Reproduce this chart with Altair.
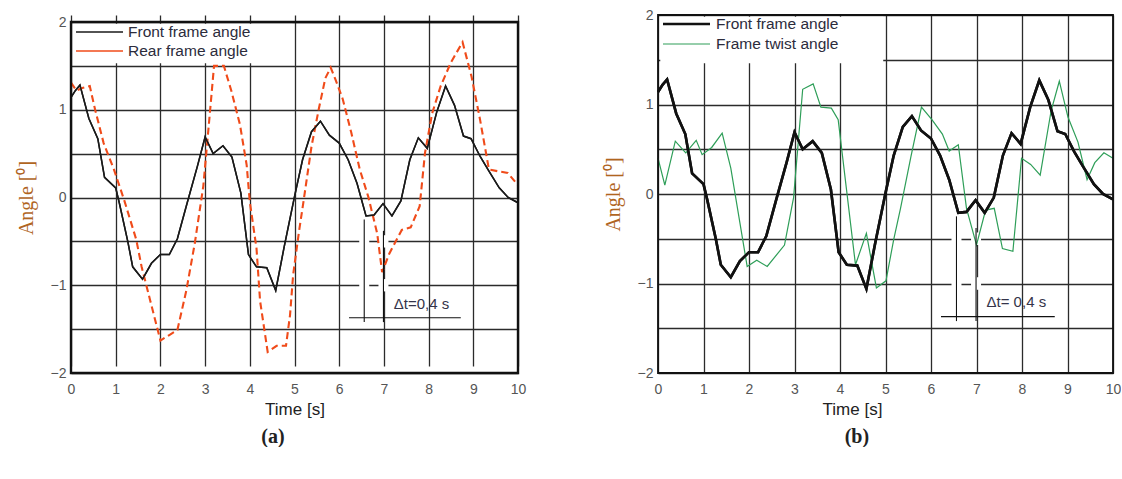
import altair as alt
import pandas as pd

# ---------------- data ----------------
front_t = [0, 0.1, 0.2, 0.4, 0.6, 0.75, 1.0, 1.08, 1.27, 1.38, 1.6, 1.8, 2.0, 2.2, 2.38, 2.6, 2.83, 3.0, 3.18, 3.4,
           3.6, 3.8, 3.97, 4.15, 4.38, 4.58, 4.77, 5.0, 5.18, 5.38, 5.58, 5.78, 6.0, 6.2, 6.4, 6.6, 6.78, 6.98, 7.18, 7.38,
           7.58, 7.77, 7.97, 8.18, 8.38, 8.58, 8.78, 8.95, 9.15, 9.35, 9.58, 9.78, 10.0]
front_v = [1.14, 1.22, 1.28, 0.90, 0.67, 0.23, 0.11, -0.06, -0.50, -0.79, -0.93, -0.75, -0.65, -0.65, -0.47, -0.06, 0.36, 0.69, 0.50, 0.59,
           0.46, 0.05, -0.65, -0.79, -0.80, -1.06, -0.56, 0.01, 0.43, 0.75, 0.87, 0.71, 0.62, 0.43, 0.16, -0.21, -0.20, -0.07, -0.21, -0.04,
           0.43, 0.68, 0.56, 0.97, 1.27, 1.05, 0.70, 0.67, 0.47, 0.30, 0.11, 0.0, -0.06]

rear_t = [0, 0.12, 0.27, 0.42, 0.54, 0.73, 0.96, 1.19, 1.46, 1.58, 1.77, 2.0, 2.19, 2.38, 2.58, 2.77, 2.96, 3.08, 3.2, 3.42,
          3.59, 3.78, 3.93, 4.0, 4.15, 4.23, 4.4, 4.6, 4.81, 4.9, 4.97, 5.1, 5.2, 5.38, 5.54, 5.69, 5.81, 5.92, 6.08, 6.27,
          6.46, 6.65, 6.85, 6.96, 7.12, 7.4, 7.6, 7.8, 7.92, 8.08, 8.27, 8.5, 8.76, 8.96, 9.15, 9.35, 9.54, 9.77, 10.0]
rear_v = [1.31, 1.22, 1.25, 1.27, 1.0, 0.62, 0.32, -0.03, -0.48, -0.79, -1.17, -1.63, -1.57, -1.51, -1.06, -0.52, 0.13, 0.81, 1.50, 1.50,
          1.21, 0.83, 0.37, -0.05, -0.58, -1.18, -1.76, -1.69, -1.69, -1.34, -0.88, -0.39, -0.05, 0.58, 1.0, 1.36, 1.48, 1.34, 1.12, 0.74,
          0.32, 0.01, -0.41, -0.85, -0.64, -0.37, -0.34, -0.10, 0.51, 0.96, 1.27, 1.54, 1.77, 1.38, 0.89, 0.32, 0.30, 0.28, 0.14]

twist_t = [0, 0.15, 0.38, 0.61, 0.84, 0.97, 1.18, 1.41, 1.6, 1.96, 2.17, 2.4, 2.78, 2.98, 3.18, 3.41, 3.58, 3.81, 3.96, 4.34,
           4.58, 4.8, 5.01, 5.18, 5.33, 5.56, 5.79, 6.02, 6.25, 6.4, 6.6, 6.78, 7.0, 7.2, 7.39, 7.57, 7.8, 7.99, 8.19, 8.4,
           8.64, 8.82, 9.01, 9.23, 9.43, 9.6, 9.8, 10.0]
twist_v = [0.40, 0.10, 0.59, 0.46, 0.60, 0.44, 0.52, 0.68, 0.29, -0.81, -0.74, -0.81, -0.57, -0.04, 1.17, 1.23, 0.97, 0.96, 0.83, -0.79,
           -0.44, -1.05, -0.97, -0.51, -0.16, 0.42, 0.97, 0.83, 0.67, 0.48, 0.55, -0.16, -0.57, -0.18, -0.16, -0.61, -0.64, 0.40, 0.33, 0.21,
           0.93, 1.26, 0.86, 0.58, 0.16, 0.35, 0.46, 0.40]

x_ticks = [0, 1, 2, 3, 4, 5, 6, 7, 8, 9, 10]
y_grid = [-2, -1.5, -1, -0.5, 0, 0.5, 1, 1.5, 2]
x_domain = [0, 10]
y_domain = [-2, 2]

# delta-t annotation (time instants, crossing levels, bracket level)
dt_times = [6.56, 6.99]
dt_top = [-0.25, -0.38]
dt_bottom = -1.42
dt_bar = [6.22, 8.72, -1.37]
dt_label = ["\u0394t=0,4 s", "\u0394t= 0,4 s"]
dt_label_pos = [7.22, -1.21]
halo_levels = [-0.5, -1.0]

GRID = "#2b2b2b"
SANS = "Liberation Sans"
SERIF = "Liberation Serif"


def axes(y_range, title_x=None):
    xa = dict(values=x_ticks, title="Time [s]", grid=True, gridColor=GRID, gridWidth=1.3,
              domain=False, ticks=False, labelPadding=9, labelFontSize=14, labelColor="#555555",
              labelFont=SANS, labelFlush=False, titleFont=SANS, titleFontSize=17,
              titleFontWeight="normal", titleColor="#222222", titlePadding=5)
    if title_x is not None:
        xa["titleX"] = title_x
    ya = dict(values=y_grid, labelExpr="datum.value % 1 == 0 ? format(datum.value, 'd') : ''",
              labelOverlap=False, labelFlush=False, grid=True, gridColor=GRID, gridWidth=1.3,
              domain=False, ticks=False, labelPadding=5, labelFontSize=14, labelColor="#555555",
              labelFont=SANS, title="Angle [\u2070]", titleFont=SERIF, titleFontSize=20,
              titleFontWeight="normal", titleColor="#b0651f", titlePadding=14)
    x = alt.X("t:Q", scale=alt.Scale(domain=x_domain, nice=False), axis=alt.Axis(**xa))
    y = alt.Y("v:Q", scale=alt.Scale(domain=y_domain, nice=False, range=y_range), axis=alt.Axis(**ya))
    return x, y


def line_layer(ts, vs, x, y, color, width, dash=None):
    df = pd.DataFrame({"t": ts, "v": vs})
    kw = dict(color=color, strokeWidth=width, interpolate="linear")
    if dash:
        kw["strokeDash"] = dash
    return alt.Chart(df).mark_line(**kw).encode(x=x, y=y)


def halos():
    halo = pd.DataFrame([(tt, lv) for tt in dt_times for lv in halo_levels], columns=["t", "lv"])
    halo["y1"] = halo["lv"] + 0.07
    halo["y2"] = halo["lv"] - 0.07
    return alt.Chart(halo).mark_rule(color="white", strokeWidth=10).encode(
        x="t:Q", y="y1:Q", y2="y2:Q")


def annotation_lines(label):
    vl = pd.DataFrame({"t": dt_times, "top": dt_top, "bot": [dt_bottom] * len(dt_times)})
    rules = alt.Chart(vl).mark_rule(color="#111111", strokeWidth=1.1).encode(
        x="t:Q", y="top:Q", y2="bot:Q")
    bar = alt.Chart(pd.DataFrame({"a": [dt_bar[0]], "b": [dt_bar[1]], "v": [dt_bar[2]]})).mark_rule(
        color="#111111", strokeWidth=1.1).encode(x="a:Q", x2="b:Q", y="v:Q")
    txt = alt.Chart(pd.DataFrame({"t": [dt_label_pos[0]], "v": [dt_label_pos[1]], "s": [label]})).mark_text(
        align="left", baseline="middle", font=SANS, fontSize=15, color="#34344a").encode(
        x="t:Q", y="v:Q", text="s:N")
    return [rules, bar, txt]


def legend_layers(names, colors, widths, rows_y, text_x):
    out = []
    for name, col, w, yy in zip(names, colors, widths, rows_y):
        d = pd.DataFrame({"label": [name]})
        out.append(alt.Chart(d).mark_rule(color=col, strokeWidth=w).encode(
            x=alt.value(5), x2=alt.value(52), y=alt.value(yy)))
        out.append(alt.Chart(d).mark_text(align="left", baseline="middle", font=SANS, fontSize=15.5,
                                          color="#2c2c3c").encode(
            x=alt.value(text_x), y=alt.value(yy), text="label:N"))
    return out


def legend_box(x2, y1):
    return alt.Chart(pd.DataFrame({"a": [0.05], "b": [x2], "c": [y1], "d": [1.98]})).mark_rect(
        color="white").encode(x="a:Q", x2="b:Q", y="c:Q", y2="d:Q")


def frame(width):
    return alt.Chart(pd.DataFrame({"a": [x_domain[0]], "b": [x_domain[1]], "c": [y_domain[0]], "d": [y_domain[1]]})).mark_rect(
        filled=False, stroke="#111111", strokeWidth=width).encode(x="a:Q", x2="b:Q", y="c:Q", y2="d:Q")


# ---------------- panel (a) ----------------
LH = 358   # full cell height; the plot frame of (a) starts 7 px lower
xa, ya = axes([LH, 7])
left_layers = [
    line_layer(front_t, front_v, xa, ya, "#1a1a1a", 1.5),
    legend_box(4.95, 1.53),
    halos(),
    line_layer(rear_t, rear_v, xa, ya, "#f04b1a", 2.1, [7, 4]),
    line_layer(front_t, front_v, xa, ya, "#1a1a1a", 1.5),
]
left_layers += annotation_lines(dt_label[0])
left_layers += legend_layers(["Front frame angle", "Rear frame angle"], ["#1a1a1a", "#f04b1a"],
                             [1.3, 1.6], [17, 36], 57)
left_layers.append(frame(2.4))

left = alt.layer(*left_layers).properties(
    width=447, height=LH,
    title=alt.TitleParams(text="(a)", orient="bottom", anchor="middle", frame="bounds",
                          font=SERIF, fontSize=20, fontWeight="bold", color="#222222", offset=10, dx=2),
)

# ---------------- panel (b) ----------------
xb, yb = axes([358, 0], title_x=194)
right_layers = [
    line_layer(front_t, front_v, xb, yb, "#111111", 2.6),
    legend_box(4.95, 1.46),
    halos(),
    line_layer(twist_t, twist_v, xb, yb, "#2e9e58", 1.2),
    line_layer(front_t, front_v, xb, yb, "#111111", 2.6),
]
right_layers += annotation_lines(dt_label[1])
right_layers += legend_layers(["Front frame angle", "Frame twist angle"], ["#111111", "#2e9e58"],
                              [2.4, 1.2], [9, 29], 58)
right_layers.append(frame(1.8))

right = alt.layer(*right_layers).properties(
    width=455, height=358,
    title=alt.TitleParams(text="(b)", orient="bottom", anchor="middle", frame="bounds",
                          font=SERIF, fontSize=20, fontWeight="bold", color="#222222", offset=10, dx=-5),
)

chart = alt.hconcat(left, right, spacing=77).configure(
    padding={"left": 16, "top": 8, "right": 0, "bottom": 0}
).configure_view(stroke=None)

chart.save("out.html", embed_options={"renderer": "svg", "actions": False})
